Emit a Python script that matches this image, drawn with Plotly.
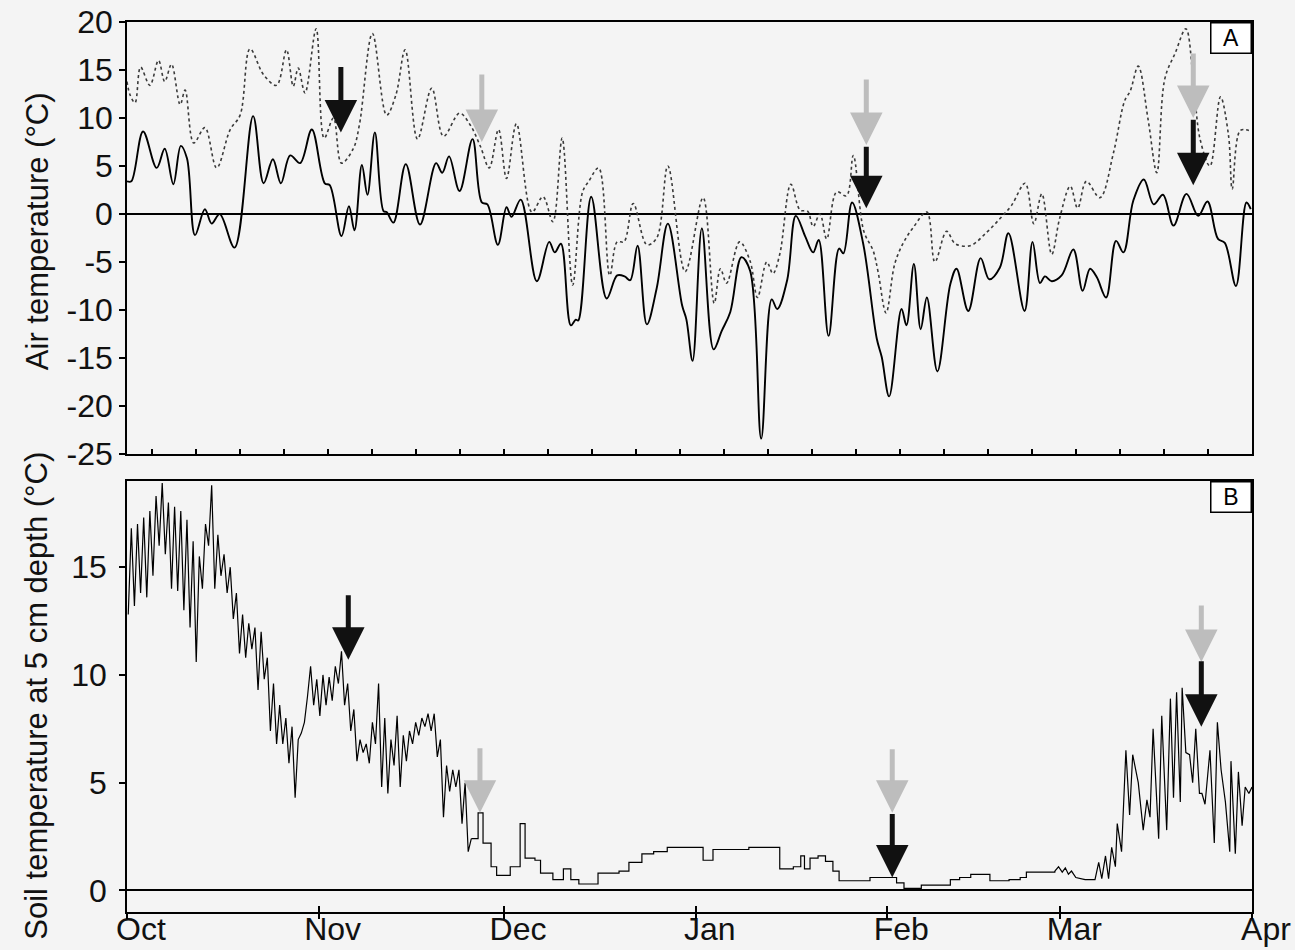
import numpy as np
import pandas as pd
import plotly.graph_objects as go

# ---------------------------------------------------------------------------
# Data: days counted from 1 October (non-leap winter), temperatures in °C
# ---------------------------------------------------------------------------
START = pd.Timestamp("2009-10-01")
END = pd.Timestamp("2010-04-01")

# Panel A - daily minimum air temperature (solid)
air_min_days = [0.0, 0.7, 2.6, 4.8, 6.1, 7.5, 8.7, 9.7, 11.0, 12.6, 13.7, 15.0, 17.4, 20.4,
                22.1, 23.6, 24.9, 26.4, 28.0, 29.9, 32.0, 32.8, 34.7, 35.9, 36.8, 38.0, 38.9,
                40.1, 41.5, 42.0, 43.1, 45.1, 47.4, 50.0, 51.0, 52.1, 53.8, 55.9, 57.4, 58.3,
                60.0, 61.4, 62.2, 63.7, 66.3, 68.3, 69.2, 70.2, 71.8, 72.6, 73.0, 75.1, 77.6,
                79.3, 80.5, 81.4, 82.6, 84.1, 85.7, 87.5, 89.8, 90.5, 91.5, 93.0, 94.9, 96.2,
                97.6, 99.4, 100.8, 102.6, 104.3, 105.2, 106.8, 108.2, 109.7, 111.0, 111.9,
                113.5, 115.2, 115.9, 117.3, 119.1, 121.3, 122.1, 123.3, 125.3, 126.1, 127.3,
                128.4, 129.4, 131.1, 133.2, 134.2, 136.1, 138.1, 139.5, 141.2, 142.6, 145.2,
                146.5, 147.7, 148.5, 149.6, 151.2, 153.1, 154.6, 155.8, 156.9, 158.4, 160.0,
                161.2, 162.8, 164.5, 166.1, 167.6, 169.3, 171.4, 173.3, 174.8, 176.5, 177.6,
                179.4, 181.1, 181.8]
air_min = [3.4, 3.4, 8.6, 4.8, 6.8, 3.1, 7.1, 5.8, -2.2, 0.5, -1.0, 0.0, -3.5, 10.2,
           3.2, 5.7, 3.2, 6.1, 5.3, 8.8, 3.2, 3.0, -2.3, 0.8, -1.7, 5.1, 2.0,
           8.5, 0.3, 0.2, -0.9, 5.2, -1.1, 5.3, 4.3, 6.0, 2.4, 7.8, 1.2, 1.0,
           -3.2, 0.7, -0.3, 1.5, -7.0, -2.9, -4.0, -3.1, -11.6, -11.0, -11.1, 1.8, -8.8,
           -6.4, -6.5, -6.9, -3.3, -11.5, -7.7, -1.0, -9.5, -11.0, -15.3, -1.5, -14.1, -12.2,
           -10.2, -4.5, -5.9, -23.4, -8.9, -9.9, -6.9, -0.2, -2.3, -4.0, -2.7,
           -12.7, -3.6, -4.1, 1.2, -3.1, -13.0, -14.9, -19.0, -9.9, -11.6, -5.2,
           -12.0, -8.7, -16.4, -7.3, -5.7, -10.1, -4.6, -6.8, -5.6, -2.0, -10.1,
           -2.9, -7.2, -6.5, -7.0, -6.4, -3.7, -8.0, -5.7, -6.6, -8.7, -2.8,
           -4.0, 1.4, 3.6, 1.0, 2.0, -1.2, 2.1, -0.2, 1.3, -2.6, -3.0,
           -7.5, 1.2, 0.5]

# Panel A - daily maximum air temperature (dotted)
air_max_days = [0.0, 0.5, 1.3, 2.2, 3.7, 5.1, 6.1, 7.2, 8.6, 9.4, 10.8, 12.6, 14.5, 16.7,
                18.3, 19.9, 22.1, 24.2, 25.8, 26.9, 27.7, 28.8, 30.6, 31.9, 33.4, 34.7, 36.6,
                37.6, 39.7, 42.0, 43.5, 45.0, 47.0, 49.3, 51.2, 53.8, 55.5, 57.2, 58.6, 60.1,
                61.4, 63.0, 65.5, 67.3, 68.9, 70.4, 72.1, 73.7, 74.7, 76.3, 78.1, 79.3, 80.4,
                81.9, 84.1, 85.7, 87.5, 90.3, 93.2, 95.0, 96.0, 97.0, 99.1, 100.8, 102.0,
                103.5, 104.5, 105.6, 107.4, 108.9, 110.1, 111.0, 112.1, 113.2, 114.8, 116.4,
                117.5, 119.2, 120.7, 121.5, 122.8, 124.2, 125.6, 127.2, 129.4, 130.7, 132.6,
                134.0, 136.4, 139.1, 141.2, 143.1, 145.3, 146.7, 148.0, 149.6, 150.9, 152.6,
                153.8, 155.2, 157.4, 159.6, 161.4, 162.3, 163.6, 165.2, 166.6, 167.9, 169.6,
                171.3, 172.5, 173.6, 175.2, 176.9, 178.2, 178.8, 180.1, 181.5]
air_max = [13.8, 12.4, 11.6, 15.3, 13.4, 16.0, 13.8, 15.6, 11.4, 12.9, 7.4, 9.0, 4.8, 8.8,
           10.3, 17.2, 14.5, 13.4, 17.1, 13.3, 15.2, 12.6, 19.3, 7.9, 10.0, 5.3, 6.8,
           9.3, 18.8, 10.3, 12.4, 17.1, 7.8, 13.1, 8.1, 10.5, 9.3, 7.0, 4.8, 8.8,
           3.7, 9.4, 0.2, 1.8, -0.8, 7.9, -7.4, 2.3, 3.4, 4.8, -6.4, -2.9, -2.9,
           1.1, -3.2, -2.5, 5.0, -6.0, 1.7, -9.3, -5.7, -7.2, -2.9, -4.9, -8.7,
           -5.0, -6.2, -4.2, 3.1, 0.4, 0.3, -1.3, 0.0, -2.6, 2.3, 1.9,
           6.1, -1.8, -3.8, -6.0, -10.3, -5.2, -3.0, -1.4, 0.2, -5.0, -1.8,
           -3.1, -3.3, -1.9, -0.5, 0.9, 3.2, -1.0, 2.1, -4.2, -0.4, 2.9,
           0.6, 3.4, 1.7, 6.4, 11.8, 12.8, 15.4, 9.8, 4.3, 14.1, 16.8,
           19.3, 14.0, 7.8, 5.0, 12.2, 8.2, 2.6, 8.7, 8.7]

# Panel B - soil at 5 cm: daily low / high for the autumn stretch (days 0..55)
soil_low = [12.8, 13.2, 13.8, 13.6, 14.6, 16.0, 15.6, 14.0, 13.9, 13.0, 12.2, 10.6, 14.0, 16.0,
            14.0, 14.6, 13.8, 12.6, 11.0, 10.8, 11.2, 9.3, 9.8, 7.4, 6.8, 6.8, 5.9, 4.3,
            7.3, 9.0, 8.6, 8.1, 8.6, 8.8, 9.6, 8.6, 7.4, 6.0, 6.4, 5.9, 6.8, 4.8,
            4.5, 5.8, 4.8, 6.0, 6.8, 7.2, 7.6, 7.4, 6.2, 3.4, 4.6, 4.8, 3.1, 1.8]
soil_high = [16.8, 17.0, 17.3, 17.6, 18.3, 18.9, 18.0, 17.8, 17.6, 17.2, 16.2, 15.5, 17.0, 18.8,
             16.5, 15.6, 15.0, 13.8, 12.8, 12.4, 12.2, 12.0, 10.8, 9.6, 8.6, 8.0, 7.6, 7.0,
             7.8, 10.4, 9.8, 10.0, 9.9, 10.4, 11.1, 9.6, 8.4, 7.0, 6.8, 7.8, 9.6, 8.0,
             7.0, 8.1, 7.2, 7.4, 7.8, 8.0, 8.2, 8.2, 7.0, 5.8, 5.6, 5.6, 5.0, 2.4]

# Panel B - soil at 5 cm: logged steps through the frozen season
soil_winter_days = [55.7, 56.8, 57.6, 58.9, 59.8, 60.7, 62.0, 63.6, 64.4, 66.0, 66.9, 68.9,
                    70.6, 71.8, 73.1, 75.2, 76.2, 78.3, 79.6, 81.2, 83.3, 85.2, 87.4, 91.7,
                    93.2, 94.8, 98.8, 100.6, 104.4, 105.6, 107.8, 109.0, 109.6, 110.5, 111.8,
                    113.0, 114.2, 115.2, 119.9, 120.2, 123.6, 124.5, 125.7, 127.9, 128.5,
                    132.2, 133.2, 134.7, 136.5, 139.6, 142.7, 144.5, 145.5, 150.1]
soil_winter = [2.4, 3.6, 2.2, 1.1, 0.7, 0.7, 1.1, 3.1, 1.5, 1.4, 0.8, 0.5,
               1.0, 0.5, 0.3, 0.3, 0.8, 0.8, 0.9, 1.3, 1.7, 1.8, 2.0, 2.0,
               1.4, 1.9, 1.9, 2.0, 2.0, 1.0, 1.1, 1.6, 1.0, 1.5, 1.6,
               1.35, 0.9, 0.45, 0.45, 0.6, 0.6, 0.35, 0.1, 0.1, 0.25,
               0.25, 0.5, 0.6, 0.75, 0.45, 0.5, 0.6, 0.85, 0.9]

# Panel B - soil at 5 cm: thaw in March
soil_spring_days = [150.1, 150.7, 151.3, 151.8, 152.3, 152.8, 153.5, 154.1, 155.0, 156.6,
                    157.2, 157.7, 158.3, 158.8, 159.3, 159.9, 160.2, 160.9, 161.6, 162.2,
                    162.7, 163.6, 164.4, 165.0, 165.5, 166.0, 166.9, 167.4, 168.2, 168.8,
                    169.3, 169.8, 170.4, 170.7, 171.3, 171.9, 172.4, 172.9, 173.5, 173.9,
                    174.4, 175.2, 175.9, 176.4, 177.0, 177.7, 178.4, 178.6, 179.3, 179.8,
                    180.4, 180.9, 181.5, 182.0]
soil_spring = [0.9, 1.1, 0.85, 1.05, 0.75, 0.9, 0.6, 0.55, 0.5, 0.5,
               1.3, 0.55, 1.6, 0.55, 2.0, 1.1, 3.1, 1.8, 6.5, 3.5,
               6.3, 5.0, 2.8, 4.2, 3.4, 7.5, 2.4, 8.1, 2.8, 8.9,
               4.3, 9.2, 4.1, 9.4, 6.4, 6.3, 5.0, 7.5, 4.5, 4.5,
               4.0, 6.5, 2.2, 7.8, 5.6, 4.1, 1.8, 6.0, 1.7, 5.5,
               3.0, 4.8, 4.5, 4.8]

# Sampling events: (day, tip value, arrow length px, colour) per panel
GRAY = "#bdbdbd"
BLACK = "#111111"
arrows_air = [(34.6, 8.5, 67, BLACK), (57.4, 7.5, 69, GRAY),
              (119.6, 7.2, 67, GRAY), (119.6, 0.6, 63, BLACK),
              (172.5, 10.0, 66, GRAY), (172.5, 3.0, 67, BLACK)]
arrows_soil = [(35.8, 10.7, 66, BLACK), (57.1, 3.6, 66, GRAY),
               (123.8, 3.6, 65, GRAY), (123.8, 0.6, 65, BLACK),
               (173.8, 10.6, 58, GRAY), (173.8, 7.6, 67, BLACK)]

month_ticks = ["2009-10-01", "2009-11-01", "2009-12-01", "2010-01-01",
               "2010-02-01", "2010-03-01", "2010-04-01"]
month_labels = ["Oct", "Nov", "Dec", "Jan", "Feb", "Mar", "Apr"]
air_ticks = [-25, -20, -15, -10, -5, 0, 5, 10, 15, 20]
soil_ticks = [0, 5, 10, 15]


def to_dates(days):
    return START + pd.to_timedelta(np.asarray(days, dtype=float), unit="D")


# interleave daily lows/highs into one time series
autumn_days, autumn_vals = [], []
for d, (lo, hi) in enumerate(zip(soil_low, soil_high)):
    autumn_days += [d + 0.2, d + 0.7]
    autumn_vals += [lo, hi]

FONT = "Liberation Sans, Arial, sans-serif"
BG = "#f4f4f4"

fig = go.Figure()
fig.add_trace(go.Scatter(x=to_dates(air_max_days), y=air_max, mode="lines",
                         line=dict(color="#3a3a3a", width=1.6, dash="dot", shape="spline",
                                   smoothing=1.0),
                         xaxis="x", yaxis="y", showlegend=False))
fig.add_trace(go.Scatter(x=to_dates(air_min_days), y=air_min, mode="lines",
                         line=dict(color="black", width=1.9, shape="spline", smoothing=1.0),
                         xaxis="x", yaxis="y", showlegend=False))
soil_line = dict(color="black", width=1.2)
fig.add_trace(go.Scatter(x=to_dates(autumn_days), y=autumn_vals, mode="lines",
                         line=dict(**soil_line, shape="linear"),
                         xaxis="x2", yaxis="y2", showlegend=False))
fig.add_trace(go.Scatter(x=to_dates(soil_winter_days), y=soil_winter, mode="lines",
                         line=dict(**soil_line, shape="hv"),
                         xaxis="x2", yaxis="y2", showlegend=False))
fig.add_trace(go.Scatter(x=to_dates(soil_spring_days), y=soil_spring, mode="lines",
                         line=dict(**soil_line, shape="linear"),
                         xaxis="x2", yaxis="y2", showlegend=False))
# carrier for the outer half of the month ticks on the lower panel
fig.add_trace(go.Scatter(x=[START, END], y=[None, None], mode="lines",
                         xaxis="x3", yaxis="y2", showlegend=False, hoverinfo="skip"))

top_a, bot_a = 1.0, 0.5146
top_b = 0.4843
axis_common = dict(showline=True, linecolor="black", linewidth=1.5, mirror=True,
                   showgrid=False, tickcolor="black", tickwidth=1.5, automargin=False)

week_ms = 7.12 * 86400000
TICK_SIZE = 32

fig.update_layout(
    width=1295, height=950,
    margin=dict(l=127, r=43, t=22, b=38, autoexpand=False),
    paper_bgcolor=BG, plot_bgcolor=BG,
    font=dict(family=FONT, color="#111111", size=TICK_SIZE),
    xaxis=dict(domain=[0, 1], anchor="y", type="date", range=[START, END],
               tick0="2009-10-05", dtick=week_ms, ticks="inside", ticklen=5,
               showticklabels=False, zeroline=False, **axis_common),
    yaxis=dict(domain=[bot_a, top_a], anchor="x", range=[-25, 20],
               tickmode="array", tickvals=air_ticks,
               ticktext=[str(v) for v in air_ticks],
               ticks="outside", ticklen=6, zeroline=True, zerolinecolor="black",
               zerolinewidth=1.6, tickfont=dict(size=TICK_SIZE), **axis_common),
    xaxis2=dict(domain=[0, 1], anchor="y2", type="date", range=[START, END],
                tickmode="array", tickvals=month_ticks, ticktext=month_labels,
                ticks="inside", ticklen=6, ticklabelshift=14, ticklabelstandoff=-12,
                zeroline=False, tickfont=dict(size=32), **axis_common),
    xaxis3=dict(overlaying="x2", anchor="y2", type="date", range=[START, END],
                tickmode="array", tickvals=month_ticks, ticks="outside", ticklen=6,
                tickcolor="black", tickwidth=1.5, showticklabels=False, automargin=False,
                showline=False, showgrid=False, zeroline=False),
    yaxis2=dict(domain=[0, top_b], anchor="x2", range=[-1, 19],
                tickmode="array", tickvals=soil_ticks,
                ticktext=[str(v) for v in soil_ticks],
                ticks="outside", ticklen=6, ticklabelstandoff=6,
                zeroline=True, zerolinecolor="black",
                zerolinewidth=1.6, tickfont=dict(size=TICK_SIZE), **axis_common),
)

annotations = [
    dict(text="Air temperature (°C)", textangle=-90, xref="paper", yref="paper",
         x=-0.08, y=0.765, xanchor="center", yanchor="middle", showarrow=False,
         font=dict(size=31, family=FONT, color="#111111")),
    dict(text="Soil temperature at 5 cm depth (°C)", textangle=-90, xref="paper",
         yref="paper", x=-0.08, y=0.243, xanchor="center", yanchor="middle",
         showarrow=False, font=dict(size=31, family=FONT, color="#111111")),
    dict(text="A", xref="x domain", yref="y domain", x=1, y=1, xanchor="right",
         yanchor="top", showarrow=False, width=39, height=29, bgcolor="white",
         bordercolor="black", borderwidth=1.5, borderpad=0,
         font=dict(size=23, family=FONT, color="black")),
    dict(text="B", xref="x2 domain", yref="y2 domain", x=1, y=1, xanchor="right",
         yanchor="top", showarrow=False, width=39, height=29, bgcolor="white",
         bordercolor="black", borderwidth=1.5, borderpad=0,
         font=dict(size=23, family=FONT, color="black")),
]

for (xr, yr, arrows) in (("x", "y", arrows_air), ("x2", "y2", arrows_soil)):
    for day, tip, length, colour in sorted(arrows, key=lambda a: a[3] == BLACK):
        annotations.append(dict(
            x=to_dates([day])[0], y=tip, xref=xr, yref=yr, text="",
            showarrow=True, ax=0, ay=-length, arrowhead=2, arrowsize=1.3,
            arrowwidth=5, arrowcolor=colour, standoff=0, startstandoff=0))

fig.update_layout(annotations=annotations)

fig.write_html("out.html")
